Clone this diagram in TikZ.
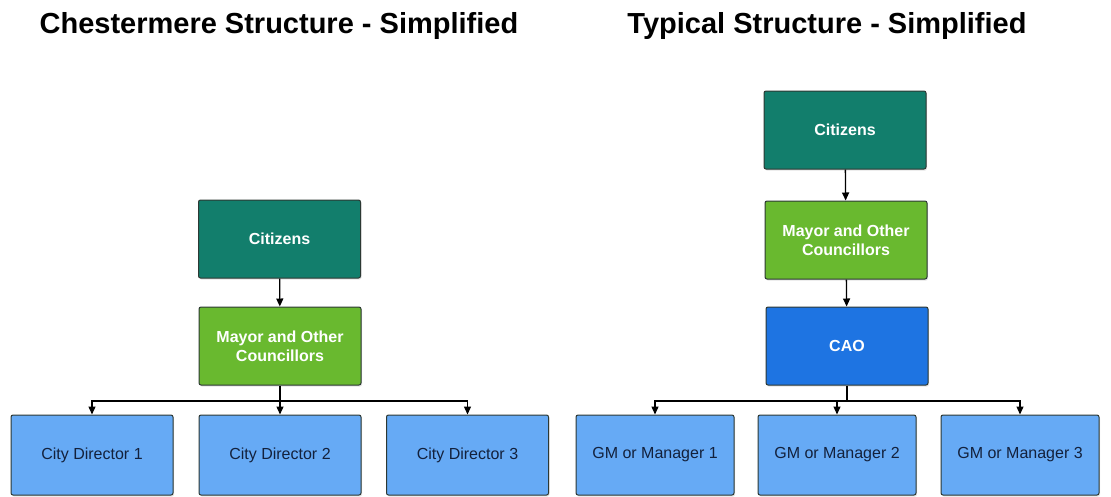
\documentclass[tikz,border=0pt]{standalone}
\usepackage{fontspec}
\setmainfont{Liberation Sans}
\usetikzlibrary{arrows.meta,shadows}

\definecolor{teal}{HTML}{127E6C}
\definecolor{leaf}{HTML}{69B92F}
\definecolor{royal}{HTML}{1E74E2}
\definecolor{sky}{HTML}{66AAF5}
\definecolor{navy}{HTML}{13213C}
\definecolor{edge}{HTML}{2C3833}

\tikzset{
  box/.style={draw=edge, line width=1pt, rounded corners=2pt,
    minimum width=162pt, minimum height=78pt, align=center,
    font=\fontsize{16}{19}\selectfont,
    drop shadow={opacity=0.22, shadow xshift=1pt, shadow yshift=-1.5pt}},
  topbox/.style={box, fill=teal, text=white, font=\fontsize{16}{19}\selectfont\bfseries},
  midbox/.style={box, fill=leaf, text=white, font=\fontsize{16}{19}\selectfont\bfseries},
  caobox/.style={box, fill=royal, text=white, font=\fontsize{16}{19}\selectfont\bfseries},
  unitbox/.style={box, fill=sky, text=navy, minimum height=80pt},
  title/.style={font=\fontsize{29}{34}\selectfont\bfseries, text=black},
  link/.style={draw=black, line width=1.3pt},
  arr/.style={link, -{Triangle[length=8pt,width=7pt]}}
}

\begin{document}
\begin{tikzpicture}[x=1pt,y=-1pt]
  \useasboundingbox (0,0) rectangle (1111,496);

  % headings
  \node[title] (tleft)  at (279,26) {Chestermere Structure - Simplified};
  \node[title] (tright) at (827,26) {Typical Structure - Simplified};

  % Chestermere chart
  \node[topbox]  (lcit)  at (279.5,239) {Citizens};
  \node[midbox]  (lmay)  at (280,346)   {Mayor and Other\\Councillors};
  \node[unitbox] (cd1)   at (92,455)    {City Director 1};
  \node[unitbox] (cd2)   at (280,455)   {City Director 2};
  \node[unitbox] (cd3)   at (467.5,455) {City Director 3};
  \coordinate (lj) at (280,401);

  \draw[arr] (lcit) -- (lmay);
  \draw[link] (lmay) -- (lj);
  \draw[arr] (lj) -| (cd1.north);
  \draw[arr] (lj) -- (cd2.north);
  \draw[arr] (lj) -| (cd3.north);

  % typical chart
  \node[topbox]  (rcit) at (845,130)  {Citizens};
  \node[midbox]  (rmay) at (846,240)  {Mayor and Other\\Councillors};
  \node[caobox]  (cao)  at (847,346)  {CAO};
  \node[unitbox, minimum width=158pt] (gm1) at (655,455)  {GM or Manager 1};
  \node[unitbox, minimum width=158pt] (gm2) at (837,455)  {GM or Manager 2};
  \node[unitbox, minimum width=158pt] (gm3) at (1020,455) {GM or Manager 3};
  \coordinate (rj) at (847,401);

  \draw[arr] (rcit) -- (rmay);
  \draw[arr] (rmay) -- (cao);
  \draw[link] (cao) -- (rj);
  \draw[arr] (rj) -| (gm1.north);
  \draw[arr] (rj) -| (gm2.north);
  \draw[arr] (rj) -| (gm3.north);
\end{tikzpicture}
\end{document}
